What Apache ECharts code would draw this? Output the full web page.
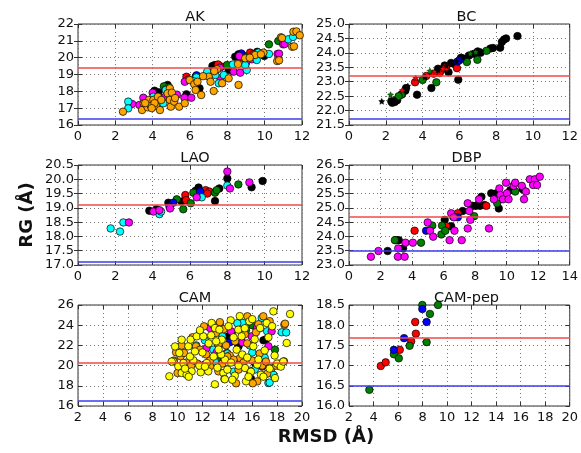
<!DOCTYPE html>
<html><head><meta charset="utf-8">
<script src="https://cdn.jsdelivr.net/npm/echarts@6/dist/echarts.min.js"></script>
<style>html,body{margin:0;padding:0;background:#fff}#c{width:581px;height:453px}</style>
</head><body><div id="c"></div>
<script>
// ---------- DATA ----------
const panelTitles = ['AK', 'BC', 'LAO', 'DBP', 'CAM', 'CAM-pep'];
const xAxisLabel = 'RMSD (Å)';
const yAxisLabel = 'RG (Å)';
// [min, max, interval]
const xRanges = [[0,12,2],[0,12,2],[0,12,2],[0,14,2],[2,20,2],[2,20,2]];
const yRanges = [[16,22,1],[21.5,25,0.5],[17,20.5,0.5],[23,26.5,0.5],[16,26,2],[16,18.5,0.5]];
const refRed  = [19.4, 23.2, 19.1, 24.7, 20.3, 17.7];
const refBlue = [16.4, 21.7, 17.1, 23.5, 16.5, 16.5];

// AK
const akBlack = [[4.1,18.04],[4.8,18.38],[5.81,17.82],[6.3,18.87],[6.51,18.18],[6.97,19.03],[7.33,19.56],[8.07,19.27],[8.42,20.06],[8.81,20.16],[9.98,20.1],[4.3,17.95],[7.2,19.5],[8.6,20.2],[9.6,20.35]];
const akRed = [[5.81,18.87],[7.68,19.47],[8.25,19.56],[9.22,20.3],[8.8,20.0],[5.9,18.7],[7.5,19.6],[9.4,20.2]];
const akGreen = [[4.88,18.24],[7.98,19.56],[10.23,20.79],[10.73,20.99],[8.9,20.1],[4.6,18.3]];
const akBlue = [[8.75,20.25],[4.7,18.1],[6.35,18.95]];
const akCyan = [[2.69,17.39],[2.69,16.99],[4.04,17.68],[4.57,17.29],[4.7,18.08],[6.34,18.83],[6.92,19.17],[7.36,18.97],[7.54,18.48],[7.81,18.97],[9.04,19.27],[8.96,19.56],[9.58,19.86],[9.66,20.3],[10.23,20.22],[11.26,21.09],[11.52,21.23],[4.9,17.75],[6.2,18.6],[8.3,19.6],[3.9,17.4]];
const akMagenta = [[2.9,17.25],[3.29,17.19],[3.5,17.62],[4.0,17.92],[4.67,17.68],[5.7,17.62],[5.72,18.57],[6.07,17.62],[7.63,18.77],[8.34,19.17],[8.69,19.11],[8.64,20.1],[9.31,19.9],[10.69,20.22],[10.99,20.79],[11.07,20.81],[10.77,20.24],[5.3,17.8],[7.6,19.4],[9.0,19.7],[4.3,17.7]];
const akOrange = [[2.41,16.79],[3.43,16.89],[3.52,17.29],[3.73,17.05],[3.8,17.49],[3.9,17.13],[4.04,17.49],[4.18,17.13],[4.28,17.68],[4.39,16.89],[4.46,17.49],[4.92,18.18],[4.8,17.88],[5.03,17.92],[4.92,17.49],[4.97,17.09],[5.15,17.39],[5.42,17.09],[5.72,17.29],[5.98,18.67],[6.23,18.42],[6.3,18.08],[6.4,18.57],[6.6,17.78],[7.0,18.87],[7.1,18.57],[7.27,18.02],[7.45,19.31],[7.72,18.48],[8.07,18.77],[8.57,19.62],[8.6,18.38],[8.96,19.96],[9.49,20.16],[9.93,20.3],[10.67,19.8],[10.87,21.21],[10.93,21.17],[11.47,20.65],[11.54,21.54],[11.7,21.56],[11.88,21.33],[11.57,20.67],[10.77,19.84],[3.6,17.3],[4.1,17.3],[5.2,17.6],[6.7,18.9],[7.3,19.2],[9.2,20.0],[9.8,20.2],[3.95,17.0]];

// BC
const bcBlack = [[2.35,22.27],[2.49,22.3],[2.62,22.36],[2.88,22.57],[3.06,22.69],[3.1,22.78],[3.7,22.55],[4.48,22.78],[4.84,23.45],[5.2,23.56],[5.41,23.33],[5.94,23.07],[5.73,23.62],[5.55,23.65],[6.09,23.83],[6.53,23.91],[6.8,23.97],[7.15,24.0],[7.69,24.15],[7.83,24.17],[8.22,24.18],[8.31,24.38],[8.43,24.46],[8.54,24.5],[9.16,24.58],[2.3,22.32],[5.0,23.4],[6.3,23.8],[7.0,24.05]];
const bcRed = [[3.59,22.98],[4.93,23.3],[5.28,23.5],[5.87,23.47],[4.6,23.28],[4.2,23.2]];
const bcGreen = [[2.85,22.55],[4.0,23.06],[4.75,22.98],[6.41,23.68],[6.98,23.76],[7.47,24.07],[2.7,22.5]];
const bcBlue = [[6.0,23.74],[5.9,23.7]];
const bcStarBlack = [[1.78,22.32],[2.45,22.4],[3.2,22.85],[4.13,23.16],[4.85,23.4],[5.3,23.55],[5.55,23.6],[5.85,23.7],[6.2,23.85],[7.2,24.05]];
const bcStarRed = [[3.63,23.13],[4.52,23.27],[5.1,23.45],[2.9,22.7]];
const bcStarGreen = [[2.26,22.55],[4.4,23.37],[6.89,24.03],[6.6,23.98]];

// LAO
const laoBlack = [[3.82,18.9],[4.2,18.95],[4.84,19.18],[5.55,19.22],[6.46,19.71],[7.57,19.68],[7.34,19.24],[8.0,20.03],[9.3,19.72],[9.89,19.94],[6.3,19.6]];
const laoRed = [[5.75,19.45],[5.79,19.27],[6.84,19.62],[7.04,19.57],[6.93,19.5]];
const laoGreen = [[5.29,19.3],[5.64,18.95],[6.04,19.16],[6.18,19.53],[7.34,19.53],[7.43,19.62],[8.59,19.82]];
const laoBlue = [[5.1,19.18],[6.54,19.57],[4.9,19.05]];
const laoCyan = [[1.75,18.28],[2.25,18.17],[2.43,18.49],[4.36,18.78],[4.45,18.87],[6.63,19.37],[8.0,19.78]];
const laoMagenta = [[2.73,18.49],[4.04,18.87],[4.36,18.92],[4.93,18.98],[6.36,19.37],[8.0,20.27],[8.14,19.68],[9.18,19.89]];

// DBP
const dbpBlack = [[2.45,23.49],[2.99,23.87],[3.16,23.87],[3.43,23.58],[6.07,24.58],[6.48,24.36],[7.21,24.89],[7.84,25.07],[8.05,25.07],[8.31,25.07],[8.4,25.39],[9.02,25.51],[9.5,24.98],[10.23,25.62],[11.02,25.65],[9.3,25.5],[8.6,25.1]];
const dbpRed = [[4.16,24.2],[6.17,24.36],[6.9,24.81],[8.71,25.07]];
const dbpGreen = [[2.91,23.87],[4.57,23.78],[5.28,24.38],[5.86,24.07],[5.9,24.38],[6.11,24.2],[7.94,24.71],[9.4,25.16],[10.54,25.57],[6.6,24.7]];
const dbpBlue = [[4.89,24.2],[6.9,24.67]];
const dbpMagenta = [[1.39,23.29],[1.87,23.49],[3.12,23.58],[3.1,23.29],[3.53,23.29],[3.58,23.78],[4.05,23.78],[4.99,24.49],[5.14,24.2],[5.34,23.99],[6.38,23.87],[6.48,24.81],[6.69,24.2],[6.65,24.67],[7.15,23.87],[7.53,24.28],[7.69,24.58],[7.63,24.89],[7.53,25.16],[8.25,25.3],[8.88,24.28],[9.19,25.3],[9.54,25.68],[9.6,25.45],[9.77,25.3],[9.96,25.88],[10.02,25.51],[10.12,25.3],[10.44,25.77],[10.54,25.88],[10.96,25.77],[11.1,25.3],[11.22,25.57],[11.47,26.0],[11.79,26.0],[11.68,25.8],[11.93,25.8],[12.1,26.09]];

// CAM
const camBlack = [[14.08,22.9],[14.35,23.23],[16.22,20.26],[12.5,20.1],[13.3,21.9],[15.9,18.7],[16.9,22.5],[14.9,21.9],[12.0,20.0],[17.1,22.6]];
const camRed = [[13.95,21.25],[16.8,19.9]];
const camGreen = [[17.83,21.58],[15.5,23.5],[16.0,24.0],[13.2,20.5]];
const camBlue = [[14.2,22.3]];
const camCyan = [[11.8,23.23],[12.88,21.58],[13.41,24.15],[15.23,24.22],[16.76,24.71],[17.3,18.28],[18.37,23.3],[18.73,23.28],[17.4,18.32],[12.2,22.5],[12.6,23.8],[13.6,22.9],[14.0,21.2],[14.8,24.2],[15.1,20.4],[15.8,22.0],[16.2,19.6],[16.6,23.7],[17.0,20.8],[17.7,19.1],[16.0,21.3],[14.5,19.4],[11.5,22.0],[13.0,20.4],[17.2,23.4]];
const camMagenta = [[12.61,23.72],[13.14,21.32],[15.96,22.9],[17.56,23.39],[17.3,21.91],[14.3,23.4],[12.3,21.7],[16.4,23.8],[16.8,20.2],[15.2,22.3]];
const camOrange = [[9.88,21.32],[10.0,19.27],[10.25,20.92],[10.52,21.25],[10.33,21.98],[10.95,19.76],[11.48,21.91],[11.8,21.58],[12.13,23.89],[12.61,19.93],[13.09,23.23],[13.28,22.07],[13.28,19.43],[14.62,22.4],[15.02,20.75],[15.61,24.88],[16.41,18.44],[16.89,24.88],[17.56,19.76],[18.58,24.05],[18.55,20.42],[18.64,24.15],[16.04,18.25],[14.7,18.25],[9.7,20.5],[10.7,20.3],[11.2,22.8],[11.6,20.2],[12.3,21.1],[12.9,24.0],[13.6,20.2],[13.9,22.0],[14.2,21.0],[14.9,19.6],[15.3,20.3],[15.6,22.2],[16.0,20.5],[16.3,23.3],[16.6,21.2],[16.8,20.0],[17.1,20.4],[17.4,24.4],[17.9,20.0],[18.2,20.2],[12.6,20.5],[13.4,24.3],[14.5,20.6],[15.8,19.5],[16.5,24.1],[17.2,19.2],[11.1,20.0],[12.0,19.6],[14.0,20.9],[15.4,23.1],[10.4,19.6],[13.7,23.6]];
const camYellow = [[9.34,18.94],[9.66,20.42],[9.8,21.9],[10.06,19.93],[10.33,19.27],[10.47,20.26],[10.14,21.25],[10.87,21.91],[11.13,19.43],[10.73,19.1],[11.27,20.52],[11.05,22.57],[11.54,22.9],[11.86,19.34],[11.75,20.0],[12.07,22.9],[12.34,20.26],[12.47,19.43],[12.74,24.22],[13.01,23.72],[13.36,23.56],[13.55,22.57],[13.81,20.59],[13.68,19.27],[13.76,18.68],[14.27,24.48],[14.88,23.56],[15.15,22.9],[14.75,21.58],[15.42,19.76],[15.5,18.44],[15.77,24.38],[16.09,21.91],[16.63,23.72],[17.16,24.22],[17.7,25.37],[17.83,18.77],[18.77,22.24],[19.04,25.11],[13.0,18.15],[13.8,18.65],[10.33,22.56],[9.53,20.4],[12.0,21.3],[12.5,22.2],[12.9,20.9],[13.2,19.8],[13.5,21.1],[14.0,19.6],[14.3,20.3],[14.6,19.0],[14.9,20.0],[15.2,21.1],[15.4,23.7],[15.6,20.8],[15.9,19.4],[16.2,22.6],[16.4,20.1],[16.7,19.1],[17.0,21.5],[17.4,19.7],[17.6,23.9],[18.0,20.2],[18.3,19.9],[11.0,20.9],[11.4,21.4],[10.6,19.7],[12.2,19.9],[13.1,22.4],[14.5,22.8],[15.0,24.9],[16.0,24.6],[16.5,20.6],[17.3,22.8],[14.1,23.9],[13.3,21.6],[12.7,23.0],[11.8,23.5],[15.7,18.9],[16.9,18.9],[14.4,18.6],[17.8,21.0],[18.5,20.4],[10.9,18.9]];

// CAM-pep
const pepRed = [[4.59,16.99],[4.99,17.08],[6.14,17.39],[7.07,17.6],[7.45,17.79],[7.4,18.08]];
const pepGreen = [[3.66,16.4],[5.66,17.28],[6.06,17.18],[6.94,17.49],[8.33,17.58],[8.6,18.28],[7.98,18.5],[9.26,18.5]];
const pepBlue = [[5.66,17.39],[6.49,17.68],[7.98,18.4],[8.33,18.08]];

// ---------- STYLE / LAYOUT ----------
const C = {black:'#000000', red:'#ff0000', green:'#007f00', blue:'#0000ff', cyan:'#00ffff', magenta:'#ff00ff', orange:'#ffa500', yellow:'#ffff00'};
const STAR = 'path://M0,-10 L2.9,-4 L9.5,-3.1 L4.7,1.5 L5.9,8.1 L0,5 L-5.9,8.1 L-4.7,1.5 L-9.5,-3.1 L-2.9,-4 Z';
const panelSeries = [
  [[akBlack,C.black],[akRed,C.red],[akGreen,C.green],[akBlue,C.blue],[akMagenta,C.magenta],[akCyan,C.cyan],[akOrange,C.orange]],
  [[bcBlack,C.black],[bcRed,C.red],[bcGreen,C.green],[bcBlue,C.blue],[bcStarBlack,C.black,'star'],[bcStarRed,C.red,'star'],[bcStarGreen,C.green,'star']],
  [[laoBlack,C.black],[laoRed,C.red],[laoGreen,C.green],[laoBlue,C.blue],[laoCyan,C.cyan],[laoMagenta,C.magenta]],
  [[dbpBlack,C.black],[dbpRed,C.red],[dbpGreen,C.green],[dbpBlue,C.blue],[dbpMagenta,C.magenta]],
  [[camBlack,C.black],[camRed,C.red],[camGreen,C.green],[camBlue,C.blue],[camCyan,C.cyan],[camMagenta,C.magenta],[camOrange,C.orange],[camYellow,C.yellow]],
  [[pepRed,C.red],[pepGreen,C.green],[pepBlue,C.blue]]
];
const grids = [
  {left:78, top:24, width:224, height:101},
  {left:349, top:24, width:225, height:101},
  {left:78, top:165, width:224, height:100},
  {left:349, top:165, width:225, height:100},
  {left:78, top:305, width:224, height:101},
  {left:349, top:305, width:225, height:101}
];
const FONT = 'DejaVu Sans';
const oneDec = [false, true, true, true, false, true];

const tickStyle = {show:true, inside:true, length:4, lineStyle:{color:'#333'}};
const xAxes = [], yAxes = [];
xRanges.forEach((r,i) => {
  xAxes.push({
    type:'value', gridIndex:i, min:r[0], max:r[1], interval:r[2], position:'bottom',
    axisLine:{show:false}, axisTick:tickStyle,
    axisLabel:{fontFamily:FONT, fontSize:13, color:'#111', margin:5, showMinLabel:true, showMaxLabel:true},
    splitLine:{show:true, lineStyle:{color:'#777', type:[1,3], width:1}}
  });
});
xRanges.forEach((r,i) => {
  xAxes.push({
    type:'value', gridIndex:i, min:r[0], max:r[1], interval:r[2], position:'top',
    axisLine:{show:false}, axisTick:tickStyle, axisLabel:{show:false}, splitLine:{show:false}
  });
});
yRanges.forEach((r,i) => {
  yAxes.push({
    type:'value', gridIndex:i, min:r[0], max:r[1], interval:r[2], position:'left',
    axisLine:{show:false}, axisTick:tickStyle,
    axisLabel:{fontFamily:FONT, fontSize:13, color:'#111', margin:4, showMinLabel:true, showMaxLabel:true,
      formatter: v => oneDec[i] ? v.toFixed(1) : String(v)},
    splitLine:{show:true, lineStyle:{color:'#777', type:[1,3], width:1}}
  });
});
yRanges.forEach((r,i) => {
  yAxes.push({
    type:'value', gridIndex:i, min:r[0], max:r[1], interval:r[2], position:'right',
    axisLine:{show:false}, axisTick:tickStyle, axisLabel:{show:false}, splitLine:{show:false}
  });
});

const option = {
  animation:false,
  backgroundColor:'#fff',
  textStyle:{fontFamily:FONT},
  grid: grids.map(g => Object.assign({show:true, borderColor:'#333', borderWidth:1, backgroundColor:'#fff'}, g)),
  title: panelTitles.map((t,i) => ({
    text:t, left: grids[i].left + grids[i].width/2, top: grids[i].top - 19, textAlign:'center',
    textStyle:{fontFamily:FONT, fontSize:14.5, fontWeight:'normal', color:'#111'}
  })),
  xAxis: xAxes,
  yAxis: yAxes,
  series: [],
  graphic: [
    {type:'text', x:326, y:437, style:{text:xAxisLabel, font:'bold 18px "DejaVu Sans"', fill:'#111', align:'center', verticalAlign:'middle'}},
    {type:'text', x:27, y:215, rotation:Math.PI/2, style:{text:yAxisLabel, font:'bold 18px "DejaVu Sans"', fill:'#111', align:'center', verticalAlign:'middle'}}
  ]
};

panelSeries.forEach((list, i) => {
  list.forEach(([data, color, kind]) => {
    option.series.push({
      type:'scatter', xAxisIndex:i, yAxisIndex:i, data:data, clip:true, silent:true,
      symbol: kind === 'star' ? STAR : 'circle',
      symbolSize: kind === 'star' ? 6 : 7.5,
      itemStyle:{color:color, borderColor:'#000', borderWidth: kind === 'star' ? 0.4 : 0.7, opacity:1},
      z:2
    });
  });
  option.series.push({
    type:'scatter', xAxisIndex:i, yAxisIndex:i, data:[], silent:true, z:5,
    markLine:{silent:true, symbol:['none','none'], label:{show:false}, animation:false,
      data:[
        {yAxis:refRed[i], lineStyle:{color:'#f04848', width:1.5, type:'solid'}},
        {yAxis:refBlue[i], lineStyle:{color:'#3c3cf0', width:1.5, type:'solid'}}
      ]}
  });
});

const chart = echarts.init(document.getElementById('c'), null, {renderer:'canvas'});
chart.setOption(option);
</script></body></html>
